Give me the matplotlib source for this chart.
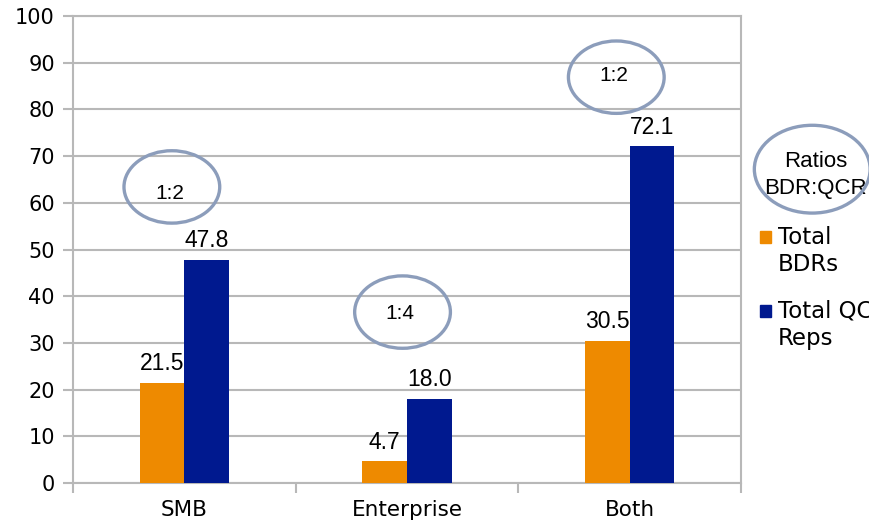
import numpy as np
import matplotlib
matplotlib.use("Agg")
import matplotlib.pyplot as plt
from matplotlib.patches import Ellipse, Rectangle

# Data
categories = ["SMB", "Enterprise", "Both"]
bdrs = [21.5, 4.7, 30.5]
qcr_reps = [47.8, 18.0, 72.1]
ratio_labels = ["1:2", "1:4", "1:2"]
series_names = ["Total\nBDRs", "Total QCR\nReps"]

orange = "#EE8A00"
blue = "#00198F"
grid_c = "#B8B8B8"
ring_c = "#8C9DBB"

W, H = 870, 528
fig = plt.figure(figsize=(8.7, 5.28), dpi=100)
ax = fig.add_axes([0.0839, 0.0852, 0.7678, 0.8845])

x = np.arange(len(categories))
w = 0.2
ax.bar(x - w / 2, bdrs, w, color=orange, zorder=3)
ax.bar(x + w / 2, qcr_reps, w, color=blue, zorder=3)

# value labels
for xi, v in zip(x, bdrs):
    ax.text(xi - w / 2, v + 1.6, f"{v:.1f}", ha="center", va="bottom",
            family="Liberation Sans", fontsize=16.5)
for xi, v in zip(x, qcr_reps):
    ax.text(xi + w / 2, v + 1.6, f"{v:.1f}", ha="center", va="bottom",
            family="Liberation Sans", fontsize=16.5)

ax.set_xlim(-0.5, 2.5)
ax.set_ylim(0, 100)
ax.set_yticks(np.arange(0, 101, 10))
ax.set_xticks(x)
ax.set_xticklabels(categories)
ax.set_xticks([-0.5, 0.5, 1.5, 2.5], minor=True)
ax.tick_params(axis="x", which="major", length=0, pad=12, labelsize=15.5)
ax.tick_params(axis="x", which="minor", length=7, width=1.5, color=grid_c)
ax.tick_params(axis="y", length=7, width=1.5, color=grid_c, labelsize=15, pad=6)
ax.yaxis.grid(True, color=grid_c, linewidth=1.5, zorder=0)
ax.set_axisbelow(True)
for s in ax.spines.values():
    s.set_color(grid_c)
    s.set_linewidth(1.5)

# ratio rings (annotations)
ring_pos = [(-0.056, 63.4, 62.0), (0.98, 36.6, 36.3), (1.94, 86.9, 87.2)]
for (cx, cy, ty), lab in zip(ring_pos, ratio_labels):
    ax.add_patch(Ellipse((cx, cy), 0.43, 15.5, fill=False, edgecolor=ring_c,
                         linewidth=2.4, clip_on=False, zorder=4))
    ax.text(cx - 0.01, ty, lab, ha="center", va="center",
            family="Liberation Sans", fontsize=15)

ax.add_patch(Ellipse((2.82, 67.2), 0.52, 18.8, fill=False, edgecolor=ring_c,
                     linewidth=2.4, clip_on=False, zorder=4))
ax.text(2.835, 66.0, "Ratios\nBDR:QCR", ha="center", va="center",
        family="Liberation Sans", fontsize=16, linespacing=1.4)

# legend, handle aligned with the first text line
for i, (name, col) in enumerate(zip(series_names, [orange, blue])):
    top = 231 + i * 74
    fig.add_artist(Rectangle((760 / W, 1 - (top + 12) / H), 11 / W, 12 / H,
                             transform=fig.transFigure, color=col))
    fig.text(778 / W, 1 - (top - 5) / H, name, ha="left", va="top",
             fontsize=16.5, linespacing=1.2)

fig.savefig("out.png", dpi=100)
